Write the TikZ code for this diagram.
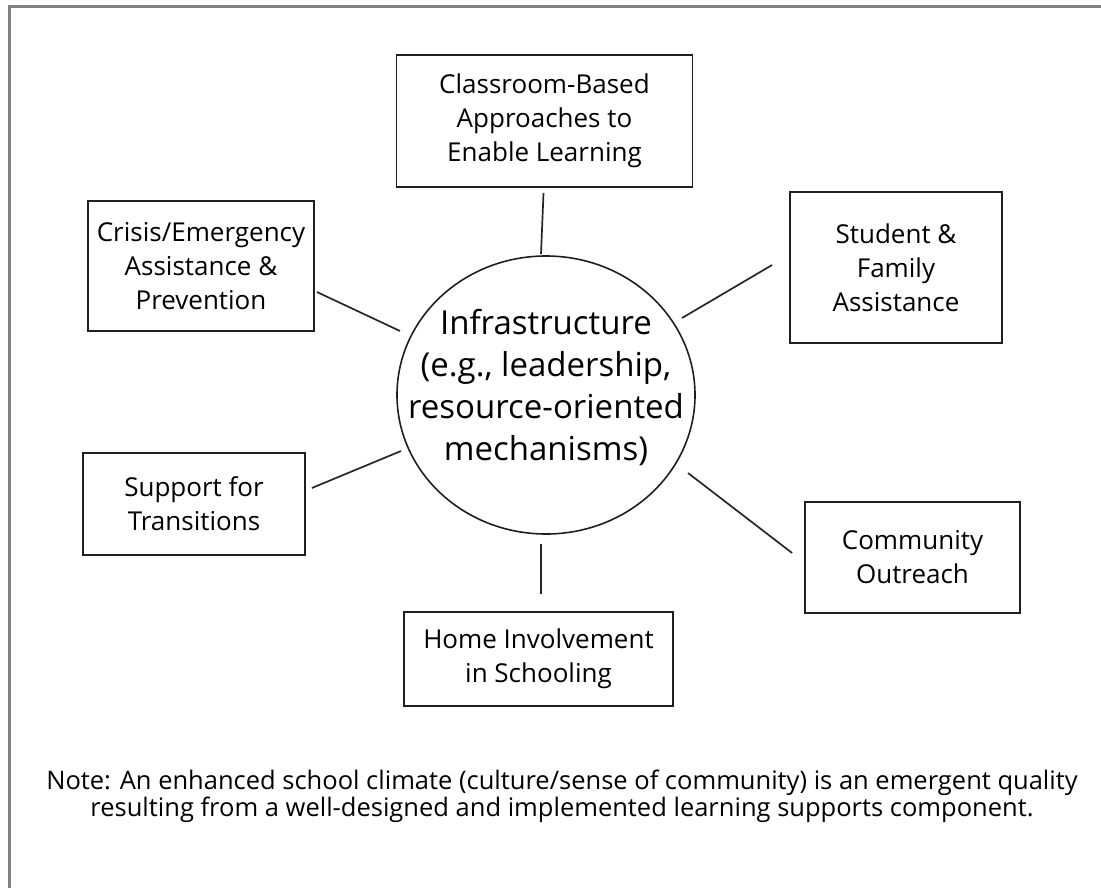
\documentclass[tikz,border=0pt]{standalone}
\usepackage{fontspec}
\setmainfont{Open Sans}
\usetikzlibrary{shapes.geometric}
\begin{document}
\begin{tikzpicture}[x=1pt,y=-1pt,
  box/.style={draw=black!88, line width=1.8pt, align=center, inner sep=0pt,
    font=\fontsize{26}{34}\selectfont},
  hub/.style={ellipse, draw=black!88, line width=1.6pt, inner sep=0pt,
    minimum width=298pt, minimum height=278pt},
  hubtext/.style={align=center, inner sep=0pt, font=\fontsize{33}{42}\selectfont},
  link/.style={draw=black!85, line width=1.7pt},
  frame/.style={draw=black!50, line width=3pt},
  note/.style={align=center, inner sep=0pt, font=\fontsize{25.5}{27}\selectfont}
  ]
\useasboundingbox (0,0) rectangle (1101,888);
\draw[frame] (9,888) -- (9,7) -- (1101,7);

\node[hub] (infra) at (546,395) {};
\node[hubtext] (infratext) at ([yshift=7.5pt]infra.center)
  {Infrastructure\\(e.g., leadership,\\resource-oriented\\mechanisms)};

\node[box, minimum width=296pt, minimum height=132pt] (classroom) at (544.5,121)
  {Classroom-Based\\Approaches to\\Enable Learning};
\node[box, minimum width=226pt, minimum height=130pt] (crisis) at (201,266)
  {Crisis/Emergency\\Assistance \&\\Prevention};
\node[box, minimum width=212pt, minimum height=151pt] (student) at (896,267.5)
  {Student \&\\Family\\Assistance};
\node[box, minimum width=222pt, minimum height=102pt] (support) at (194,504)
  {Support for\\Transitions};
\node[box, minimum width=215pt, minimum height=111pt] (community) at (912.5,557.5)
  {Community\\Outreach};
\node[box, minimum width=269pt, minimum height=94pt] (home) at (538.5,659)
  {Home Involvement\\in Schooling};

\draw[link] ([shift={(-1,5)}]classroom.south) -- ([shift={(-5,-1)}]infra.north);
\draw[link] ([shift={(2,26)}]crisis.east) -- ([shift={(-146,-64)}]infra.center);
\draw[link] ([shift={(-17,-2.5)}]student.west) -- ([shift={(136,-77)}]infra.center);
\draw[link] ([shift={(6,-16)}]support.east) -- ([shift={(-145,56)}]infra.center);
\draw[link] ([shift={(-12,-4.5)}]community.west) -- ([shift={(142,78)}]infra.center);
\draw[link] ([shift={(-5,9)}]infra.south) -- ([shift={(2.5,-17)}]home.north);

\node[note] (notetext) at (562,796)
  {Note: An enhanced school climate (culture/sense of community) is an emergent quality\\%
resulting from a well-designed and implemented learning supports component.};
\end{tikzpicture}
\end{document}
